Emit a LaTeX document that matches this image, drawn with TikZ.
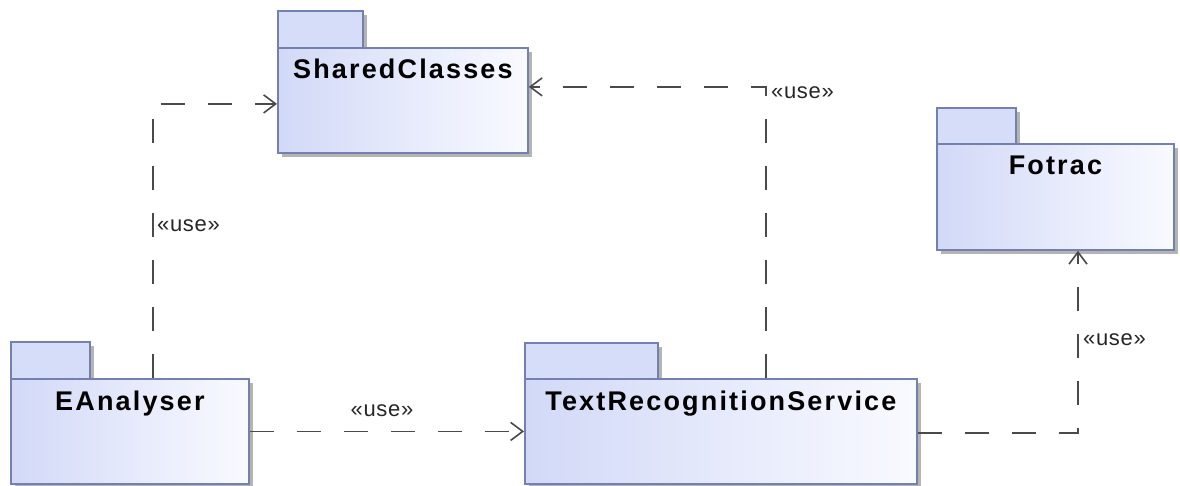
\documentclass[tikz,border=0pt]{standalone}
\usepackage{fontspec}
\setmainfont{Liberation Sans}
\newfontfamily\pkgfont{Liberation Sans}[LetterSpace=8]
\newfontfamily\stereofont{Liberation Sans}[LetterSpace=3]
\usetikzlibrary{arrows.meta,shadows,calc}

\definecolor{pkgedge}{HTML}{7480AE}
\definecolor{pkgdark}{HTML}{D2D9F7}
\definecolor{pkglight}{HTML}{F9FAFF}
\definecolor{pkgtabfill}{HTML}{D6DDF8}
\definecolor{shadowgray}{HTML}{B4B4B4}
\definecolor{depline}{HTML}{4A4A4A}

\tikzset{
  pkgshadow/.style={drop shadow={shadow xshift=4pt, shadow yshift=-4pt, fill=shadowgray, opacity=1}},
  pkgtab/.style={draw=pkgedge, line width=1.8pt, fill=pkgtabfill, pkgshadow,
    inner sep=0pt, anchor=north west},
  pkgbody/.style={draw=pkgedge, line width=1.8pt, left color=pkgdark, right color=pkglight,
    pkgshadow, inner sep=0pt, anchor=north west},
  pkgname/.style={font=\pkgfont\bfseries\fontsize{27}{30}\selectfont, inner sep=0pt, anchor=base},
  uselabel/.style={font=\stereofont\fontsize{22}{26}\selectfont, inner sep=0pt, text=black!85},
  dep/.style={draw=depline, line width=1.6pt, dash pattern=on 24pt off 23pt,
    -{Straight Barb[length=12pt, width=18pt, line width=1.6pt]}},
}

\begin{document}
\begin{tikzpicture}[x=1pt, y=-1pt]
\useasboundingbox (0,0) rectangle (1180,486);

% SharedClasses
\node[pkgtab, minimum width=85pt, minimum height=37pt] (sctab) at (277,10) {};
\node[pkgbody, minimum width=250pt, minimum height=105pt] (sc) at (277,47) {};
\node[pkgname] (scname) at ($(sc.north)+(0,32)$) {SharedClasses};

% Fotrac
\node[pkgtab, minimum width=79pt, minimum height=36pt] (fotab) at (936,107) {};
\node[pkgbody, minimum width=237pt, minimum height=106pt] (fo) at (936,143) {};
\node[pkgname] (foname) at ($(fo.north)+(0,32)$) {Fotrac};

% EAnalyser
\node[pkgtab, minimum width=79pt, minimum height=37pt] (eatab) at (10,341) {};
\node[pkgbody, minimum width=238pt, minimum height=105pt] (ea) at (10,378) {};
\node[pkgname] (eaname) at ($(ea.north)+(0,32)$) {EAnalyser};

% TextRecognitionService
\node[pkgtab, minimum width=133pt, minimum height=36pt] (trstab) at (524,342) {};
\node[pkgbody, minimum width=392pt, minimum height=105pt] (trs) at (524,378) {};
\node[pkgname] (trsname) at ($(trs.north)+(0,32)$) {TextRecognitionService};

% dependency bend points
\coordinate (eaup) at (153,0);
\coordinate (trsup) at (766,0);
\coordinate (foup) at (1078,0);

% dependencies
\draw[dep] (ea.north -| eaup) |- ($(sc.west)+(0,3.5)$);
\draw[dep] (trs.north -| trsup) |- ($(sc.east)+(0,-13.5)$);
\draw[dep] (ea.east) -- (trs.west);
\draw[dep] ($(trs.east)+(0,1.5)$) -| (fo.south -| foup);

% stereotypes
\node[uselabel, anchor=west] (use1) at (157,226) {«use»};
\node[uselabel, anchor=west] (use2) at (771,93) {«use»};
\node[uselabel] (use3) at (382,411) {«use»};
\node[uselabel, anchor=west] (use4) at (1083,340) {«use»};
\end{tikzpicture}
\end{document}
